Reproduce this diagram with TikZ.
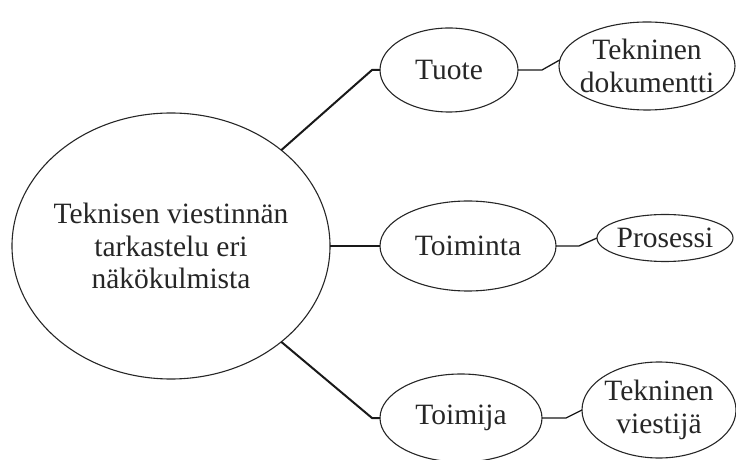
\documentclass[tikz,border=0pt]{standalone}
\usepackage{fontspec}
\setmainfont{Liberation Serif}
\usetikzlibrary{shapes.geometric}
\begin{document}
\begin{tikzpicture}[x=1bp,y=-1bp,
  ell/.style={ellipse, draw=black!85, line width=1.1bp, inner sep=0pt, outer sep=0pt},
  txt/.style={align=center, text=black!85, font=\fontsize{29.5bp}{32.5bp}\selectfont},
  mainlink/.style={draw=black!90, line width=2bp},
  sublink/.style={draw=black!90, line width=1.3bp}]
\useasboundingbox (0,0) rectangle (736,460);
\node[ell, minimum width=318bp, minimum height=266bp,
  label={[txt]center:Teknisen viestinnän\\tarkastelu eri\\näkökulmista}] (big) at (171,246) {};
\node[ell, minimum width=138bp, minimum height=84bp,
  label={[txt]center:Tuote}] (tuote) at (449,70) {};
\node[ell, minimum width=176bp, minimum height=90bp,
  label={[txt]center:Toiminta}] (toiminta) at (468,246) {};
\node[ell, minimum width=162bp, minimum height=88bp,
  label={[txt]center:Toimija}] (toimija) at (461,418) {};
\node[ell, minimum width=176bp, minimum height=88bp,
  label={[txt]center:Tekninen\\dokumentti}] (dok) at (647,66) {};
\node[ell, minimum width=136bp, minimum height=47bp,
  label={[txt]center:Prosessi}] (pros) at (665,238) {};
\node[ell, minimum width=154bp, minimum height=96bp,
  label={[txt]center:Tekninen\\viestijä}] (viest) at (659,410) {};
\draw[mainlink] (big.41) -- ([xshift=-8bp]tuote.west) -- (tuote.west);
\draw[mainlink] (big.east) -- (toiminta.west);
\draw[mainlink] (big.-41) -- ([xshift=-8bp]toimija.west) -- (toimija.west);
\draw[sublink] (tuote.east) -- ++(24,0) -- (dok.176);
\draw[sublink] (toiminta.east) -- ++(23,0) -- (pros.west);
\draw[sublink] (toimija.east) -- ++(24,0) -- (viest.west);
\end{tikzpicture}
\end{document}
